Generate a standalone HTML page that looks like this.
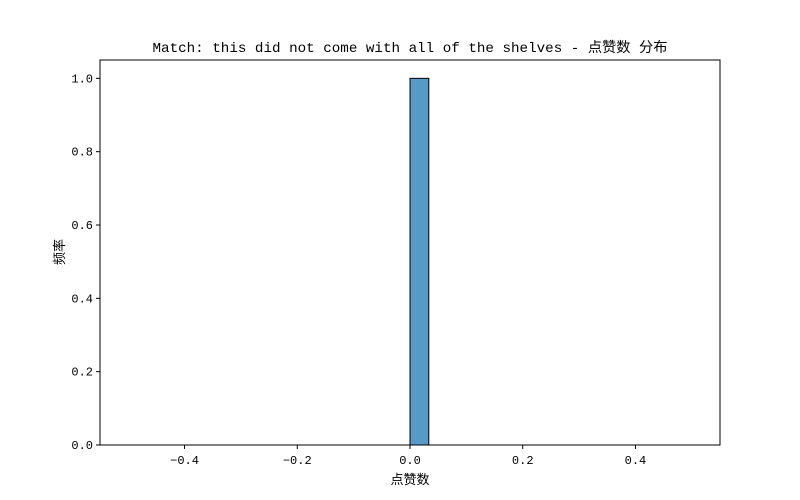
<!DOCTYPE html>
<html><head><meta charset="utf-8"><style>
html,body{margin:0;padding:0;background:#fff;}
svg{display:block;font-family:"Liberation Mono","Noto Sans CJK SC",monospace;}
</style></head><body>
<svg id="chart" width="800" height="500">
<rect width="800" height="500" fill="#fff"/>
<text x="410" y="52" text-anchor="middle" font-size="14" textLength="515" lengthAdjust="spacingAndGlyphs">Match: this did not come with all of the shelves - 点赞数 分布</text>
<g id="bars"></g>
<g id="xticks"></g>
<g id="yticks"></g>
<rect x="100" y="60" width="620" height="385" fill="none" stroke="#000" stroke-width="1"/>
<text x="410" y="484" text-anchor="middle" font-size="13">点赞数</text>
<text transform="translate(64,252) rotate(-90)" text-anchor="middle" font-size="13">频率</text>
</svg>
<script>
const binCounts = [0,0,0,0,0,0,0,0,0,0,0,0,0,0,0,1,0,0,0,0,0,0,0,0,0,0,0,0,0,0];
const binStart = -0.5;
const binEnd = 0.5;
const xTickValues = [-0.4,-0.2,0,0.2,0.4];
const xTickLabels = ["−0.4","−0.2","0.0","0.2","0.4"];
const yTickValues = [0,0.2,0.4,0.6,0.8,1.0];
const yTickLabels = ["0.0","0.2","0.4","0.6","0.8","1.0"];

const L=100,R=720,T=60,B=445;
const xmin=-0.55,xmax=0.55,ymin=0,ymax=1.05;
const xs=v=>L+(v-xmin)/(xmax-xmin)*(R-L);
const ys=v=>B-(v-ymin)/(ymax-ymin)*(B-T);
const NS="http://www.w3.org/2000/svg";
const bars=document.getElementById('bars');
const w=(binEnd-binStart)/binCounts.length;
binCounts.forEach((c,i)=>{
  const x0=xs(binStart+i*w), x1=xs(binStart+(i+1)*w);
  const r=document.createElementNS(NS,'rect');
  r.setAttribute('x',x0);r.setAttribute('width',x1-x0);
  r.setAttribute('y',ys(c));r.setAttribute('height',ys(0)-ys(c));
  r.setAttribute('fill','#5799c7');r.setAttribute('stroke','#000');r.setAttribute('stroke-width','1');
  
  
  bars.appendChild(r);
});
const xt=document.getElementById('xticks');
xTickValues.forEach((v,i)=>{
  const x=xs(v);
  const l=document.createElementNS(NS,'line');
  l.setAttribute('x1',x);l.setAttribute('x2',x);l.setAttribute('y1',B);l.setAttribute('y2',B+4);l.setAttribute('stroke','#000');
  
  
  xt.appendChild(l);
  const t=document.createElementNS(NS,'text');
  t.setAttribute('x',x);t.setAttribute('y',B+19);t.setAttribute('text-anchor','middle');t.setAttribute('font-size','12');
  t.textContent=xTickLabels[i];
  
  
  xt.appendChild(t);
});
const yt=document.getElementById('yticks');
yTickValues.forEach((v,i)=>{
  const y=ys(v);
  const l=document.createElementNS(NS,'line');
  l.setAttribute('x1',L-4);l.setAttribute('x2',L);l.setAttribute('y1',y);l.setAttribute('y2',y);l.setAttribute('stroke','#000');
  
  
  yt.appendChild(l);
  const t=document.createElementNS(NS,'text');
  t.setAttribute('x',L-7);t.setAttribute('y',y+4);t.setAttribute('text-anchor','end');t.setAttribute('font-size','12');
  t.textContent=yTickLabels[i];
  
  
  yt.appendChild(t);
});
</script>
</body></html>
